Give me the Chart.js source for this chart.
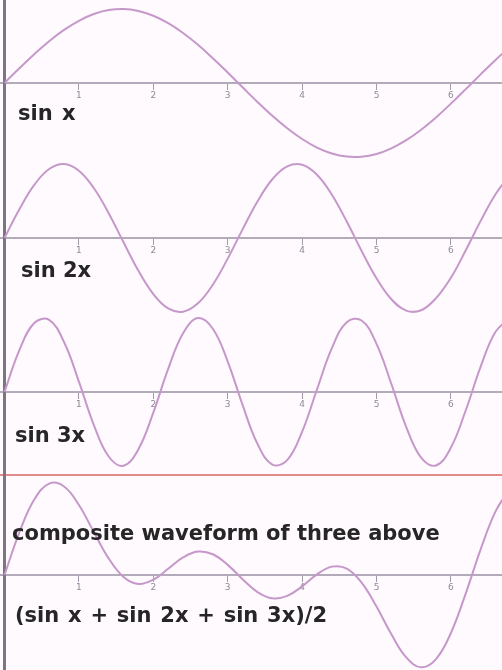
<!DOCTYPE html>
<html>
<head>
<meta charset="utf-8">
<script src="https://cdn.jsdelivr.net/npm/chart.js@4/dist/chart.umd.min.js"></script>
<style>
  html, body { margin: 0; padding: 0; background: #fefafe; }
  #wrap { position: relative; width: 502px; height: 670px; overflow: hidden; }
  canvas { position: absolute; left: 0; top: 0; }
  .lbl { position: absolute; font-family: "DejaVu Sans", sans-serif; font-weight: bold;
         font-size: 21px; line-height: 21px; color: #262626; white-space: nowrap; }
</style>
</head>
<body>
<div id="wrap">
  <canvas id="c" width="502" height="670"></canvas>
  <div class="lbl" style="left:18px; top:103px; word-spacing:2px;">sin x</div>
  <div class="lbl" style="left:21px; top:260px;">sin 2x</div>
  <div class="lbl" style="left:15px; top:425px;">sin 3x</div>
  <div class="lbl" style="left:12px; top:523px;">composite waveform of three above</div>
  <div class="lbl" style="left:15px; top:605px; word-spacing:1.5px;">(sin x + sin 2x + sin 3x)/2</div>
</div>
<script>
// ---- data ----
const xs = [0,0.2,0.4,0.6,0.8,1.0,1.2,1.4,1.6,1.8,2.0,2.2,2.4,2.6,2.8,3.0,3.2,3.4,3.6,3.8,
            4.0,4.2,4.4,4.6,4.8,5.0,5.2,5.4,5.6,5.8,6.0,6.2,6.4,6.6,6.8];
const sinX = [0,0.199,0.389,0.565,0.717,0.841,0.932,0.985,1.0,0.974,0.909,0.808,0.675,0.516,0.335,0.141,
              -0.058,-0.256,-0.443,-0.612,-0.757,-0.872,-0.952,-0.994,-0.996,-0.959,-0.883,-0.773,-0.631,
              -0.465,-0.279,-0.083,0.117,0.312,0.494];
const sin2X = [0,0.389,0.717,0.932,1.0,0.909,0.675,0.335,-0.058,-0.443,-0.757,-0.952,-0.996,-0.883,-0.631,
               -0.279,0.117,0.494,0.794,0.968,0.989,0.855,0.585,0.223,-0.175,-0.544,-0.828,-0.981,-0.976,
               -0.813,-0.537,-0.166,0.231,0.592,0.859];
const sin3X = [0,0.565,0.932,0.974,0.675,0.141,-0.443,-0.872,-0.996,-0.773,-0.279,0.312,0.794,0.999,0.855,
               0.412,-0.175,-0.700,-0.981,-0.920,-0.537,0.034,0.592,0.944,0.966,0.650,0.108,-0.473,-0.888,
               -0.993,-0.751,-0.247,0.343,0.813,1.0];
const composite = [0,0.576,1.019,1.235,1.196,0.946,0.582,0.224,-0.027,-0.121,-0.064,0.084,0.237,0.316,0.280,
                   0.137,-0.058,-0.231,-0.315,-0.282,-0.153,0.009,0.113,0.087,-0.103,-0.427,-0.802,-1.114,
                   -1.248,-1.136,-0.784,-0.248,0.346,0.859,1.176];
const tickValues = [1,2,3,4,5,6];
const tickLabels = ['1','2','3','4','5','6'];
const separatorValue = 1.35;   // red rule above the composite panel (in its y units)

// ---- layout ----
const W = 502, H = 670, PX = 74.4, X0 = 4.5;
const axisPx = [83, 238, 392, 575];
const curveColor = '#c698ca';
const axisColor = '#b3abb9';

function yRange(p) { return { min: -(H - p) / 74, max: p / 74 }; }
function pts(arr) { return xs.map((x, i) => ({ x: x, y: arr[i] })); }

function xAxis(yId) {
  return {
    type: 'linear',
    min: -X0 / PX,
    max: (W - X0) / PX,
    position: { [yId]: 0 },
    afterBuildTicks: s => { s.ticks = tickValues.map(v => ({ value: v })); },
    ticks: {
      callback: (v) => { const i = tickValues.indexOf(v); return i >= 0 ? tickLabels[i] : ''; },
      font: { family: 'DejaVu Sans', size: 9 },
      color: '#8f8995',
      padding: 1,
      maxRotation: 0,
      autoSkip: false
    },
    grid: { drawOnChartArea: false, drawTicks: true, tickLength: 6, color: '#a29aa8', lineWidth: 1 },
    border: { display: true, color: axisColor, width: 2 }
  };
}

const series = [sinX, sin2X, sin3X, composite];
const datasets = series.map((arr, i) => ({
  data: pts(arr),
  xAxisID: 'x',
  yAxisID: 'y' + (i + 1),
  borderColor: curveColor,
  borderWidth: 2,
  pointRadius: 0,
  tension: 0.4,
  fill: false
}));

new Chart(document.getElementById('c'), {
  type: 'line',
  data: { datasets },
  options: {
    responsive: false,
    animation: false,
    devicePixelRatio: 1,
    layout: { padding: 0 },
    plugins: { legend: { display: false }, tooltip: { enabled: false }, title: { display: false } },
    scales: {
      x: xAxis('y1'),
      x2: xAxis('y2'),
      x3: xAxis('y3'),
      x4: xAxis('y4'),
      y1: Object.assign({ type: 'linear', display: false }, yRange(axisPx[0])),
      y2: Object.assign({ type: 'linear', display: false }, yRange(axisPx[1])),
      y3: Object.assign({ type: 'linear', display: false }, yRange(axisPx[2])),
      y4: Object.assign({
        type: 'linear',
        position: { x: 0 },
        afterBuildTicks: s => { s.ticks = [{ value: separatorValue }]; },
        ticks: { display: false },
        grid: { drawTicks: false, color: '#e38a8a', lineWidth: 2 },
        border: { display: true, color: '#7d7583', width: 3 }
      }, yRange(axisPx[3]))
    }
  }
});
</script>
</body>
</html>
